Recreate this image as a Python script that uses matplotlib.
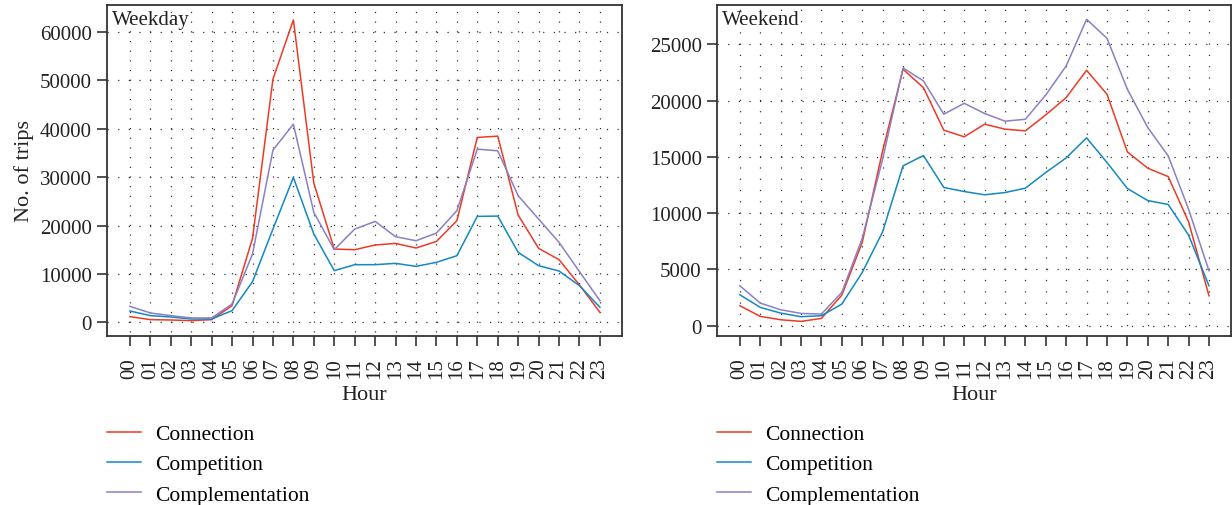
"""
Hourly trips by relation type, weekday vs weekend.
"""

import matplotlib
matplotlib.use("Agg")
import matplotlib.pyplot as plt
from matplotlib.ticker import MultipleLocator

#######################################################
# DATA

hours = [
    "00", "01", "02", "03", "04", "05", "06", "07", "08", "09", "10", "11",
    "12", "13", "14", "15", "16", "17", "18", "19", "20", "21", "22", "23"
]

weekday_connection = [
    1170, 550, 480, 340, 550, 3440, 17340, 50240, 62490, 28770, 15140, 15000,
    15970, 16310, 15350, 16720, 20990, 38200, 38470, 22160, 15280, 12940, 7710, 2060
]
weekday_competition = [
    2340, 1380, 1100, 690, 690, 2410, 8400, 19270, 29940, 18240, 10670, 11910,
    11910, 12180, 11560, 12390, 13760, 21890, 21950, 14450, 11700, 10600, 7570, 3100
]
weekday_complementation = [
    3300, 1930, 1380, 900, 900, 3790, 14110, 35580, 40950, 22710, 15000, 19270,
    20850, 17690, 16860, 18440, 23060, 35790, 35440, 26150, 21340, 16520, 10460, 4470
]

weekend_connection = [
    1775, 830, 530, 385, 650, 2720, 7400, 15530, 22780, 21150, 17370, 16780,
    17900, 17460, 17310, 18730, 20270, 22690, 20560, 15440, 13990, 13250, 9230, 2660
]
weekend_competition = [
    2750, 1630, 1120, 800, 890, 1920, 4730, 8340, 14200, 15120, 12280, 11920,
    11630, 11830, 12220, 13610, 14910, 16690, 14500, 12190, 11120, 10770, 8050, 3550
]
weekend_complementation = [
    3550, 2010, 1420, 1090, 1040, 2960, 7750, 14790, 22900, 21750, 18790, 19760,
    18850, 18170, 18340, 20500, 23080, 27220, 25530, 21000, 17600, 15090, 10350, 4880
]

series_names = ["Connection", "Competition", "Complementation"]
colors = ["#ec3b25", "#1289c2", "#8a80c4"]

#######################################################
# FIGURE

plt.rcParams["font.family"] = ["Liberation Serif", "DejaVu Serif"]
plt.rcParams["font.size"] = 14

fig = plt.figure(figsize=(12.32, 5.06), dpi=100)

AX_H_PX = 331

panels = [
    {
        "rect": [107 / 1232, 169 / 506, 515 / 1232, AX_H_PX / 506],
        "title": "Weekday",
        "data": [weekday_connection, weekday_competition, weekday_complementation],
        "ylim": (-2830, 65570),
        "major": 10000,
        "minor": 2000,
        "ylabel": "No. of trips",
        "legend_x": 107 / 1232,
    },
    {
        "rect": [717 / 1232, 169 / 506, 514 / 1232, AX_H_PX / 506],
        "title": "Weekend",
        "data": [weekend_connection, weekend_competition, weekend_complementation],
        "ylim": (-914, 28490),
        "major": 5000,
        "minor": 1000,
        "ylabel": None,
        "legend_x": 717 / 1232,
    },
]

x = list(range(len(hours)))
GRID_LW = 0.9

for p in panels:

    ax = fig.add_axes(p["rect"])

    for vals, name, c in zip(p["data"], series_names, colors):
        ax.plot(x, vals, color=c, linewidth=1.1, label=name)

    ax.set_xlim(-1.12, 24.08)
    ax.set_ylim(*p["ylim"])

    ax.set_xticks(x)
    ax.set_xticklabels(hours, rotation=90)
    ax.yaxis.set_major_locator(MultipleLocator(p["major"]))

    # dotted lattice: vertical dots spaced one minor step apart
    y0, y1 = p["ylim"]
    m = p["minor"]
    step_pt = m / (y1 - y0) * AX_H_PX * 0.72
    first = -(-y0 // m) * m - y0  # distance up to first minor value
    first_pt = first / (y1 - y0) * AX_H_PX * 0.72
    off = (step_pt - first_pt) / GRID_LW
    ax.grid(axis="x", which="major", color="#333333",
            linestyle=(off, (1, step_pt / GRID_LW - 1)), linewidth=GRID_LW)
    ax.grid(axis="y", which="major", color="#333333",
            linestyle=(0, (1, 7.5)), linewidth=GRID_LW)
    ax.set_axisbelow(True)

    ax.tick_params(axis="both", which="major", direction="out",
                   length=7, width=1.2, color="#333333",
                   labelsize=15, labelcolor="#222222", pad=4)
    ax.tick_params(axis="x", pad=8)

    for s in ax.spines.values():
        s.set_color("#333333")
        s.set_linewidth(1.3)

    ax.set_xlabel("Hour", fontsize=16, color="#222222", labelpad=5)
    if p["ylabel"]:
        ax.set_ylabel(p["ylabel"], fontsize=16, color="#222222", labelpad=4)

    ax.text(0.01, 0.985, p["title"], transform=ax.transAxes,
            ha="left", va="top", fontsize=15, color="#222222")

    ax.legend(
        loc="upper left",
        bbox_to_anchor=(p["legend_x"], 1 - 425 / 506),
        bbox_transform=fig.transFigure,
        frameon=False,
        fontsize=15.5,
        handlelength=1.58,
        handletextpad=0.65,
        labelspacing=0.48,
        borderpad=0,
        borderaxespad=0,
    )

plt.savefig("out.png", dpi=100)
plt.close()

print("Figure saved")
